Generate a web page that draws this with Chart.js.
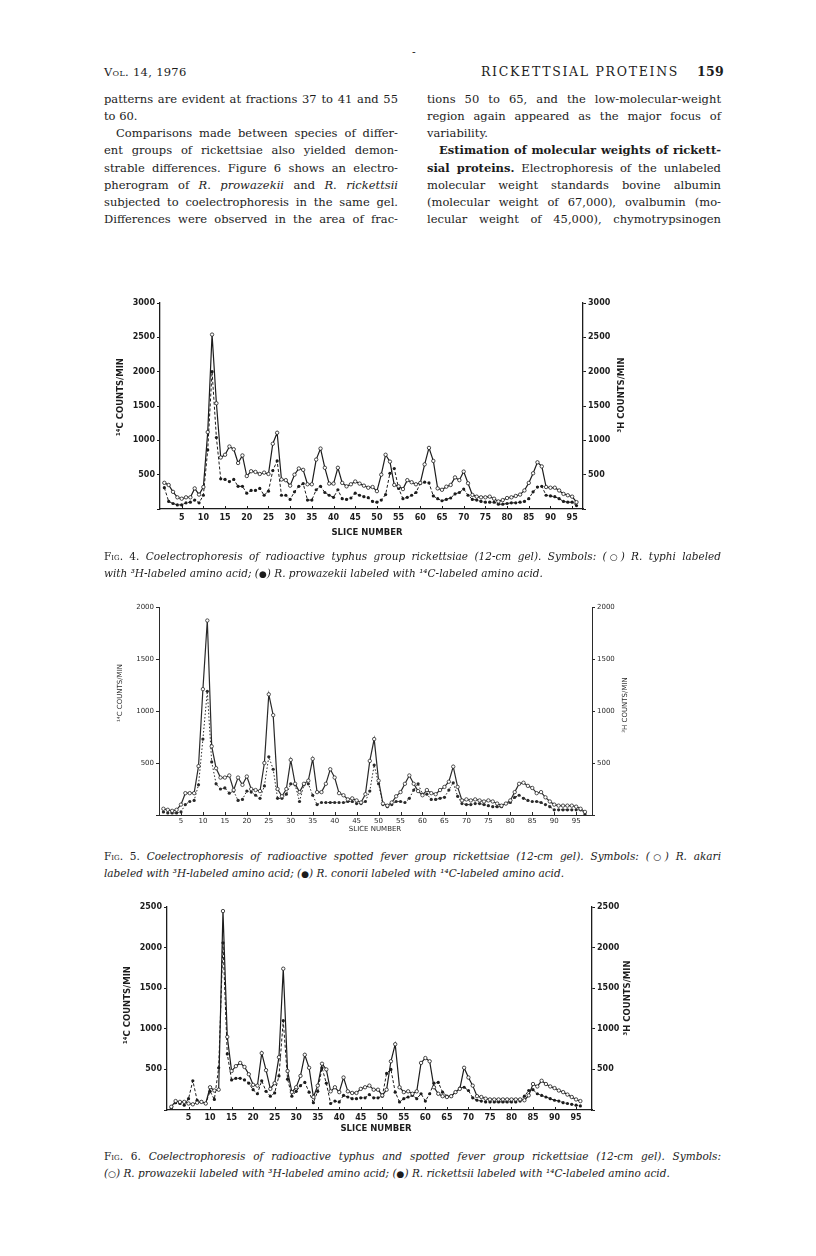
<!DOCTYPE html>
<html><head><meta charset="utf-8">
<script src="https://cdn.jsdelivr.net/npm/chart.js@4.4.1/dist/chart.umd.min.js"></script>
<style>
html,body{margin:0;padding:0;background:#fff;}
body{width:816px;height:1256px;position:relative;overflow:hidden;font-family:"DejaVu Serif",serif;color:#1c1c1c;}
.abs{position:absolute;white-space:nowrap;}
.col{position:absolute;width:294px;font-size:11.5px;line-height:17.14px;}
.col div{text-align:justify;text-align-last:justify;height:17.14px;}
.col div.last{text-align-last:left;}
.ind{text-indent:12px;}
canvas{position:absolute;left:0;}
.cap{position:absolute;left:104px;width:617px;font-style:italic;font-size:10.5px;line-height:17px;}
.cap div{text-align:justify;text-align-last:justify;height:17px;}
.cap div.last{text-align-last:left;}
.sc{font-style:normal;font-variant:small-caps;}
.sym{font-style:normal;font-size:9px;}
</style>
</head><body>

<div class="abs" style="left:412px;top:46px;font-size:11px;">-</div>
<div class="abs" style="left:104px;top:65px;font-size:11.5px;font-variant:small-caps;letter-spacing:0.3px;">Vol. 14, 1976</div>
<div class="abs" style="left:481px;top:64px;font-size:12.5px;letter-spacing:1.7px;">RICKETTSIAL PROTEINS</div>
<div class="abs" style="left:697px;top:64px;font-size:12.5px;font-weight:bold;letter-spacing:0.3px;">159</div>

<div class="col" style="left:104px;top:91px;">
<div>patterns are evident at fractions 37 to 41 and 55</div>
<div class="last">to 60.</div>
<div class="ind">Comparisons made between species of differ-</div>
<div>ent groups of rickettsiae also yielded demon-</div>
<div>strable differences. Figure 6 shows an electro-</div>
<div>pherogram of <i>R</i>. <i>prowazekii</i> and <i>R</i>. <i>rickettsii</i></div>
<div>subjected to coelectrophoresis in the same gel.</div>
<div>Differences were observed in the area of frac-</div>
</div>

<div class="col" style="left:427px;top:91px;">
<div>tions 50 to 65, and the low-molecular-weight</div>
<div>region again appeared as the major focus of</div>
<div class="last">variability.</div>
<div class="ind"><b>Estimation of molecular weights of rickett-</b></div>
<div><b>sial proteins.</b> Electrophoresis of the unlabeled</div>
<div>molecular weight standards bovine albumin</div>
<div>(molecular weight of 67,000), ovalbumin (mo-</div>
<div>lecular weight of 45,000), chymotrypsinogen</div>
</div>

<canvas id="c4" width="816" height="260" style="top:290px;"></canvas>
<div class="cap" style="top:548px;">
<div><span class="sc">Fig. 4.</span> Coelectrophoresis of radioactive typhus group rickettsiae (12-cm gel). Symbols: (<span class="sym">○</span>) R. typhi labeled</div>
<div class="last">with ³H-labeled amino acid; (<span class="sym">●</span>) R. prowazekii labeled with ¹⁴C-labeled amino acid.</div>
</div>

<canvas id="c5" width="816" height="245" style="top:595px;"></canvas>
<div class="cap" style="top:848px;">
<div><span class="sc">Fig. 5.</span> Coelectrophoresis of radioactive spotted fever group rickettsiae (12-cm gel). Symbols: (<span class="sym">○</span>) R. akari</div>
<div class="last">labeled with ³H-labeled amino acid; (<span class="sym">●</span>) R. conorii labeled with ¹⁴C-labeled amino acid.</div>
</div>

<canvas id="c6" width="816" height="245" style="top:895px;"></canvas>
<div class="cap" style="top:1148px;">
<div><span class="sc">Fig. 6.</span> Coelectrophoresis of radioactive typhus and spotted fever group rickettsiae (12-cm gel). Symbols:</div>
<div class="last">(<span class="sym">○</span>) R. prowazekii labeled with ³H-labeled amino acid; (<span class="sym">●</span>) R. rickettsii labeled with ¹⁴C-labeled amino acid.</div>
</div>

<script>
// ---------- data ----------
const SLICE_NUMBERS = [1,2,3,4,5,6,7,8,9,10,11,12,13,14,15,16,17,18,19,20,21,22,23,24,25,26,27,28,29,30,31,32,33,34,35,36,37,38,39,40,41,42,43,44,45,46,47,48,49,50,51,52,53,54,55,56,57,58,59,60,61,62,63,64,65,66,67,68,69,70,71,72,73,74,75,76,77,78,79,80,81,82,83,84,85,86,87,88,89,90,91,92,93,94,95,96,97];
const X_TICKS = [5,10,15,20,25,30,35,40,45,50,55,60,65,70,75,80,85,90,95];

// Fig. 4: (O) R. typhi, 3H ; (filled) R. prowazekii, 14C
const FIG4_H3_TYPHI = [381,350,250,170,150,170,170,300,210,320, 1120,2540,1540,750,790,910,870,670,780,480, 550,540,510,530,510,950,1110,430,420,340, 500,590,570,360,360,720,880,600,370,370, 600,380,330,360,400,370,340,310,320,260, 500,790,690,350,330,290,420,390,360,380, 650,890,700,300,280,325,350,460,420,545, 375,205,180,170,170,180,150,110,130,160, 170,190,210,270,380,520,680,620,320,310, 310,270,220,200,180,100];
const FIG4_C14_PROWAZEKII = [310,110,80,60,60,90,100,130,90,200, 860,2000,1040,440,430,400,430,330,330,230, 270,270,300,200,260,560,700,200,200,140, 250,330,370,130,130,280,330,240,200,170, 280,150,140,160,230,200,180,165,110,100, 130,210,520,590,300,150,170,200,240,370, 390,380,190,150,120,140,160,220,240,290, 200,140,130,110,100,100,100,70,70,80, 90,90,100,110,150,250,320,330,200,190, 180,150,110,100,100,50];

// Fig. 5: (O) R. akari, 3H ; (filled) R. conorii, 14C
const FIG5_H3_AKARI = [60,50,40,50,100,210,210,210,470,1210, 1870,660,450,360,360,380,240,360,290,370, 250,240,230,500,1160,960,250,180,250,530, 300,220,300,330,540,220,220,300,440,360, 210,190,150,160,140,120,200,520,730,330, 110,90,120,180,220,300,380,300,230,190, 240,210,200,240,270,320,465,270,140,150, 140,150,140,130,140,130,110,90,110,140, 220,300,310,280,260,210,220,170,130,100, 90,90,90,90,80,60,30];
const FIG5_C14_CONORII = [30,20,20,20,30,100,130,140,290,730, 1190,510,300,250,260,210,230,140,150,230, 220,190,160,280,560,440,160,160,200,300, 290,130,290,300,190,100,120,120,120,120, 120,120,130,130,110,110,130,230,480,300, 100,80,100,130,130,120,160,240,300,200, 200,150,150,160,170,240,310,180,110,100, 100,110,110,100,90,80,80,80,110,120, 170,190,160,140,130,130,120,100,80,50, 50,50,50,50,50,50,10];

// Fig. 6: (O) R. prowazekii, 3H ; (filled) R. rickettsii, 14C
const FIG6_H3_PROWAZEKII = [40,110,100,100,80,70,90,100,80,280, 240,250,2450,900,480,540,580,530,440,310, 300,700,490,260,330,650,1740,480,220,280, 420,680,520,160,300,570,500,230,280,220, 400,230,210,210,260,280,300,250,250,180, 250,600,810,280,220,230,200,230,580,640, 600,280,200,170,160,170,220,260,520,400, 300,170,160,140,130,130,130,130,130,130, 130,130,120,180,320,290,360,320,290,270, 240,220,190,160,130,110];
const FIG6_C14_RICKETTSII = [20,90,80,60,140,360,120,100,80,230, 130,520,2060,690,370,390,390,370,330,250, 200,360,230,170,210,420,1100,380,170,230, 300,340,220,90,230,520,330,80,110,100, 180,160,140,140,150,150,190,150,150,170, 450,500,220,100,140,160,180,140,200,110, 200,330,340,220,170,170,220,270,280,240, 150,120,110,100,100,100,100,100,100,100, 100,110,170,240,250,200,180,160,140,120, 110,90,80,70,60,50];

const LEFT_TITLE = '¹⁴C COUNTS/MIN';
const RIGHT_TITLE = '³H COUNTS/MIN';
const X_TITLE = 'SLICE NUMBER';

// ---------- drawing ----------
const textPlugin = {
  id: 'axisTexts',
  afterDraw(chart, args, opts) {
    const ctx = chart.ctx;
    ctx.save();
    // short upward tick marks on the slice axis, placed by the x scale
    const xs = chart.scales.x;
    ctx.strokeStyle = opts.color;
    ctx.lineWidth = 1;
    X_TICKS.forEach(v => {
      const px = Math.round(xs.getPixelForValue(v)) + 0.5;
      ctx.beginPath();
      ctx.moveTo(px, xs.top);
      ctx.lineTo(px, xs.top - opts.xTickLen);
      ctx.stroke();
    });
    ctx.fillStyle = opts.color;
    ctx.font = opts.font;
    ctx.textAlign = 'center';
    ctx.textBaseline = 'middle';
    (opts.items || []).forEach(it => {
      ctx.save();
      ctx.translate(it.x, it.y);
      if (it.rot) ctx.rotate(it.rot * Math.PI / 180);
      ctx.fillText(it.text, 0, 0);
      ctx.restore();
    });
    ctx.restore();
  }
};

function pts(values) {
  return values.map((v, i) => ({ x: SLICE_NUMBERS[i], y: v }));
}

function makeChart(id, g) {
  const H = document.getElementById(id).height;
  const yW = 40, xH = 18;
  const tickFont = { family: 'DejaVu Sans', size: g.tickSize, weight: g.weight };
  const yAxis = (pos) => ({
    type: 'linear', position: pos, min: 0, max: g.yMax,
    afterFit: s => { s.width = yW; },
    ticks: { stepSize: 500, color: g.ink, font: tickFont, padding: 2,
             callback: v => (v === 0 ? '' : String(v)) },
    grid: { display: true, drawOnChartArea: false, drawTicks: true, tickLength: 3, color: g.ink, lineWidth: 1 },
    border: { display: true, color: g.ink, width: g.axisW }
  });
  return new Chart(document.getElementById(id), {
    type: 'line',
    data: {
      datasets: [
        { label: 'H3', data: pts(g.open), yAxisID: 'y2',
          borderColor: g.ink, borderWidth: g.solidW, pointRadius: 1.7, pointBorderWidth: 0.8,
          pointBackgroundColor: '#fff', pointBorderColor: g.ink, tension: 0 },
        { label: 'C14', data: pts(g.filled), yAxisID: 'y',
          borderColor: g.ink, borderWidth: g.dashW, borderDash: g.dash, pointRadius: 1.6,
          pointBackgroundColor: g.ink, pointBorderColor: g.ink, pointBorderWidth: 0, tension: 0 }
      ]
    },
    options: {
      responsive: false, animation: false, devicePixelRatio: 1,
      layout: { padding: { left: g.left - yW, right: 816 - g.right - yW, top: g.top, bottom: H - g.bottom - xH } },
      plugins: {
        legend: { display: false }, tooltip: { enabled: false },
        axisTexts: { font: g.titleFont, color: g.ink, xTickLen: 3, items: [
          { text: LEFT_TITLE, x: g.lt[0], y: g.lt[1], rot: -90 },
          { text: RIGHT_TITLE, x: g.rt[0], y: g.rt[1], rot: -90 },
          { text: X_TITLE, x: g.xt[0], y: g.xt[1] }
        ] }
      },
      scales: {
        x: { type: 'linear', min: g.xMin, max: g.xMax,
             afterFit: s => { s.height = xH; },
             afterBuildTicks: s => { s.ticks = X_TICKS.map(v => ({ value: v })); },
             ticks: { color: g.ink, font: tickFont, padding: g.xPad, maxRotation: 0, autoSkip: false },
             grid: { display: false, drawTicks: false },
             border: { display: true, color: g.ink, width: g.axisW } },
        y: yAxis('left'),
        y2: yAxis('right')
      }
    },
    plugins: [textPlugin]
  });
}

makeChart('c4', { open: FIG4_H3_TYPHI, filled: FIG4_C14_PROWAZEKII, yMax: 3000,
  left: 160, right: 583, top: 13, bottom: 219, xMin: 0, xMax: 97.5, xPad: 4,
  tickSize: 8, weight: 'bold', titleFont: 'bold 8.5px "DejaVu Sans"', ink: '#1c1c1c',
  solidW: 1.2, dashW: 1, dash: [3, 2], axisW: 1.3,
  lt: [121, 107], rt: [622, 105], xt: [367, 243] });

makeChart('c5', { open: FIG5_H3_AKARI, filled: FIG5_C14_CONORII, yMax: 2000,
  left: 159, right: 592, top: 12, bottom: 220, xMin: 0, xMax: 98.6, xPad: 2,
  tickSize: 7, weight: 'normal', titleFont: '7px "DejaVu Sans"', ink: '#2a2a2a',
  solidW: 1.2, dashW: 1, dash: [1.5, 2], axisW: 1,
  lt: [120, 98], rt: [625, 110], xt: [375, 234] });

makeChart('c6', { open: FIG6_H3_PROWAZEKII, filled: FIG6_C14_RICKETTSII, yMax: 2500,
  left: 167, right: 592, top: 12, bottom: 215, xMin: 0, xMax: 98.7, xPad: 3,
  tickSize: 8, weight: 'bold', titleFont: 'bold 8.5px "DejaVu Sans"', ink: '#1c1c1c',
  solidW: 1.2, dashW: 1, dash: [3, 2], axisW: 1.3,
  lt: [128, 110], rt: [628, 103], xt: [376, 234] });
</script>
</body></html>
